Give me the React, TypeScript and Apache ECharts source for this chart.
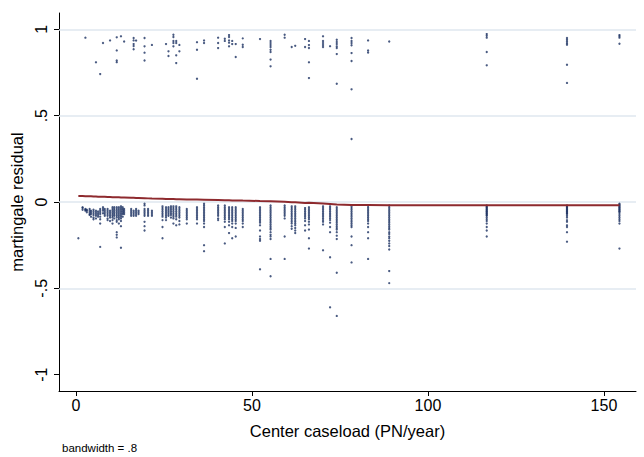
import React, { useEffect, useRef } from "react";
import * as echarts from "echarts";

// Center caseload (PN/year) of each column of points
const caseload = [
  0.7, 1.9, 2.7, 3.1, 3.9, 4.3, 5.0, 5.7, 6.3, 6.9, 7.7, 8.2, 9.0, 9.7, 10.4, 10.9, 11.6, 12.2, 12.8, 13.3,
  13.7, 15.7, 16.4, 17.1, 17.8, 19.5, 20.5, 21.6, 24.6, 25.6, 26.3, 27.0, 27.7, 28.5, 29.4, 31.5, 34.4, 36.4,
  40.4, 42.3, 43.5, 44.4, 45.4, 47.4, 52.3, 55.3, 59.3, 61.3, 62.3, 65.1, 66.2, 70.2, 72.2, 74.1, 78.3, 83.0,
  89.0, 116.7, 139.5, 154.4,
];

// Martingale residuals below zero (censored cases), per column
const lowResiduals: number[][] = [
  [-0.21],
  [-0.03, -0.035, -0.045],
  [-0.04, -0.045, -0.05],
  [-0.045, -0.05, -0.06],
  [-0.04, -0.05, -0.06, -0.07, -0.075],
  [-0.05, -0.06, -0.07, -0.085],
  [-0.045, -0.055, -0.065, -0.075, -0.09, -0.1],
  [-0.05, -0.06, -0.07, -0.08, -0.095],
  [-0.055, -0.065, -0.075, -0.085],
  [-0.04, -0.05, -0.06, -0.07, -0.085, -0.1, -0.125, -0.26],
  [-0.03, -0.04, -0.05, -0.065],
  [-0.04, -0.05, -0.06, -0.07, -0.08],
  [-0.04, -0.05, -0.06, -0.07, -0.08, -0.095, -0.105],
  [-0.05, -0.06, -0.07, -0.08, -0.09, -0.11],
  [-0.03, -0.04, -0.05, -0.06, -0.07, -0.08, -0.09, -0.105, -0.125],
  [-0.03, -0.04, -0.05, -0.06, -0.07, -0.08, -0.095],
  [-0.03, -0.04, -0.05, -0.06, -0.07, -0.08, -0.09, -0.105, -0.115, -0.175, -0.19, -0.205],
  [-0.03, -0.04, -0.05, -0.06, -0.07, -0.08, -0.09, -0.1, -0.125],
  [-0.025, -0.035, -0.045, -0.055, -0.065, -0.075, -0.085, -0.095, -0.11, -0.14, -0.265],
  [-0.03, -0.04, -0.05, -0.06, -0.07, -0.085],
  [-0.04, -0.05, -0.06, -0.07],
  [-0.04, -0.05, -0.06, -0.07, -0.08],
  [-0.05, -0.06, -0.07, -0.08],
  [-0.04, -0.05, -0.06, -0.07, -0.08],
  [-0.05, -0.06, -0.07],
  [-0.01, -0.02, -0.04, -0.05, -0.06, -0.07, -0.08, -0.115, -0.14, -0.165],
  [-0.04, -0.05, -0.06, -0.07, -0.08],
  [-0.05, -0.06, -0.07, -0.08],
  [-0.025, -0.035, -0.045, -0.055, -0.065, -0.075, -0.085, -0.105, -0.145, -0.21],
  [-0.03, -0.04, -0.05, -0.06, -0.07, -0.08, -0.09, -0.105],
  [-0.03, -0.04, -0.05, -0.06, -0.07, -0.08],
  [-0.025, -0.035, -0.045, -0.055, -0.065, -0.075, -0.09],
  [-0.025, -0.035, -0.045, -0.055, -0.065, -0.075, -0.085, -0.095, -0.125],
  [-0.025, -0.035, -0.045, -0.055, -0.065, -0.075, -0.085, -0.1, -0.135],
  [-0.03, -0.04, -0.05, -0.06, -0.07, -0.08, -0.09, -0.11, -0.13],
  [-0.04, -0.05, -0.06, -0.07, -0.08, -0.09, -0.1, -0.125],
  [-0.03, -0.04, -0.05, -0.06, -0.07, -0.08, -0.09, -0.1, -0.125],
  [-0.01, -0.02, -0.03, -0.04, -0.05, -0.06, -0.07, -0.08, -0.09, -0.1, -0.11, -0.125, -0.145, -0.25, -0.285],
  [-0.02, -0.03, -0.04, -0.05, -0.06, -0.07, -0.08, -0.095, -0.105],
  [-0.02, -0.03, -0.04, -0.05, -0.06, -0.07, -0.08, -0.09, -0.1, -0.115, -0.145, -0.24],
  [-0.03, -0.04, -0.05, -0.06, -0.07, -0.08, -0.09, -0.1, -0.115, -0.135, -0.18],
  [-0.03, -0.04, -0.05, -0.06, -0.07, -0.08, -0.09, -0.1, -0.11, -0.125, -0.145, -0.21],
  [-0.03, -0.04, -0.05, -0.06, -0.07, -0.08, -0.09, -0.1, -0.11, -0.125, -0.15, -0.2],
  [-0.04, -0.05, -0.06, -0.07, -0.08, -0.09, -0.1, -0.11, -0.125, -0.145],
  [-0.03, -0.04, -0.05, -0.06, -0.07, -0.08, -0.09, -0.1, -0.11, -0.12, -0.135, -0.165, -0.2, -0.215, -0.225, -0.39],
  [-0.02, -0.03, -0.04, -0.05, -0.06, -0.07, -0.08, -0.09, -0.1, -0.11, -0.12, -0.13, -0.14, -0.15, -0.16, -0.175, -0.19, -0.2, -0.215, -0.33, -0.43],
  [-0.02, -0.03, -0.04, -0.05, -0.06, -0.07, -0.08, -0.095, -0.2, -0.33],
  [-0.025, -0.035, -0.045, -0.055, -0.065, -0.075, -0.085, -0.095, -0.105, -0.115, -0.125, -0.14, -0.155],
  [-0.025, -0.035, -0.045, -0.055, -0.065, -0.075, -0.085, -0.095, -0.105, -0.115, -0.125, -0.135, -0.15, -0.165, -0.18],
  [-0.035, -0.045, -0.055, -0.065, -0.075, -0.085, -0.095, -0.11, -0.135, -0.165],
  [-0.03, -0.04, -0.05, -0.06, -0.07, -0.08, -0.09, -0.1, -0.115, -0.13, -0.16, -0.21, -0.27],
  [-0.025, -0.035, -0.045, -0.055, -0.065, -0.075, -0.085, -0.095, -0.105, -0.115, -0.13, -0.28],
  [-0.025, -0.035, -0.045, -0.055, -0.065, -0.075, -0.085, -0.095, -0.105, -0.12, -0.145, -0.175, -0.32, -0.61],
  [-0.03, -0.04, -0.05, -0.06, -0.07, -0.08, -0.09, -0.1, -0.11, -0.12, -0.13, -0.14, -0.15, -0.16, -0.175, -0.195, -0.215, -0.41, -0.66],
  [-0.025, -0.035, -0.045, -0.055, -0.065, -0.075, -0.085, -0.095, -0.105, -0.115, -0.125, -0.135, -0.145, -0.2, -0.25, -0.35],
  [-0.02, -0.03, -0.04, -0.05, -0.06, -0.07, -0.08, -0.09, -0.1, -0.11, -0.125, -0.145, -0.175, -0.21, -0.33],
  [-0.02, -0.03, -0.04, -0.05, -0.06, -0.07, -0.08, -0.09, -0.1, -0.11, -0.12, -0.13, -0.14, -0.15, -0.16, -0.175, -0.185, -0.2, -0.21, -0.225, -0.24, -0.255, -0.275, -0.4, -0.47],
  [-0.02, -0.025, -0.03, -0.035, -0.04, -0.045, -0.05, -0.055, -0.06, -0.065, -0.07, -0.075, -0.08, -0.09, -0.1, -0.11, -0.125, -0.145, -0.165, -0.2],
  [-0.02, -0.025, -0.03, -0.035, -0.04, -0.045, -0.05, -0.055, -0.06, -0.065, -0.07, -0.08, -0.09, -0.105, -0.115, -0.135, -0.145, -0.175, -0.23],
  [-0.01, -0.015, -0.02, -0.025, -0.03, -0.035, -0.04, -0.045, -0.05, -0.055, -0.06, -0.07, -0.08, -0.09, -0.1, -0.11, -0.125, -0.27],
];

// Martingale residuals near one (events), per column
const highResiduals: number[][] = [
  [], [], [0.952], [], [], [], [], [0.809], [], [0.741], [0.921], [], [], [0.936], [], [],
  [0.954, 0.878, 0.82, 0.81], [], [0.96], [], [0.93], [], [0.95, 0.936, 0.915, 0.904, 0.885],
  [0.935], [], [0.95, 0.902, 0.865, 0.82], [], [0.91], [], [0.915], [0.873, 0.846],
  [], [0.969, 0.956, 0.933, 0.921, 0.902], [0.933, 0.921, 0.85, 0.805], [0.91, 0.873], [],
  [0.926, 0.882, 0.714], [0.936, 0.921],
  [0.952, 0.921, 0.892], [0.946, 0.933], [0.967, 0.956, 0.936, 0.923, 0.902], [0.933, 0.915],
  [0.915, 0.84], [0.948, 0.911, 0.898], [0.944],
  [0.933, 0.921, 0.909, 0.898, 0.882, 0.869, 0.825, 0.786], [0.969, 0.952], [0.898], [0.905],
  [0.944, 0.898], [0.933, 0.909, 0.892, 0.809, 0.718], [0.96, 0.933, 0.921, 0.909, 0.898], [0.903],
  [0.94, 0.927, 0.915, 0.902, 0.892, 0.857, 0.685], [0.95, 0.933, 0.921, 0.908, 0.863, 0.817, 0.653, 0.365],
  [0.936, 0.878, 0.866], [0.93], [0.973, 0.963, 0.952, 0.869, 0.792],
  [0.95, 0.94, 0.93, 0.92, 0.911, 0.795, 0.69], [0.967, 0.96, 0.952, 0.917],
];

// Lowess smoother (bandwidth .8) evaluated at each column
const lowessFit = [
  0.035, 0.035, 0.034, 0.034, 0.033, 0.033, 0.032, 0.032, 0.031, 0.031, 0.03, 0.03, 0.029, 0.029, 0.028, 0.028,
  0.027, 0.027, 0.026, 0.026, 0.026, 0.024, 0.024, 0.023, 0.023, 0.022, 0.021, 0.02, 0.019, 0.018, 0.018, 0.017,
  0.017, 0.016, 0.016, 0.015, 0.014, 0.013, 0.011, 0.01, 0.01, 0.009, 0.009, 0.008, 0.006, 0.005, 0.001, -0.001,
  -0.002, -0.006, -0.004, -0.009, -0.012, -0.015, -0.017, -0.018, -0.019, -0.019, -0.019, -0.019,
];

const xTicks = [0, 50, 100, 150];
const yTicks = [-1, -0.5, 0, 0.5, 1];
const yGridLines = [-0.5, 0, 0.5, 1];

const FONT = "'Liberation Sans', Arial, Helvetica, sans-serif";

function stataNum(v: number): string {
  if (v === 0) return "0";
  const s = String(Math.abs(v)).replace(/^0\./, ".");
  return (v < 0 ? "-" : "") + s;
}

export default function App() {
  const ref = useRef<HTMLDivElement>(null);
  useEffect(() => {
    if (!ref.current) return;
    const chart = echarts.init(ref.current, undefined, { renderer: "svg" });
    const points: number[][] = [];
    caseload.forEach((x, i) => {
      lowResiduals[i].forEach((y) => points.push([x, y]));
      highResiduals[i].forEach((y) => points.push([x, y]));
    });
    const lowess = caseload.map((x, i) => [x, lowessFit[i]]);
    chart.setOption({
      animation: false,
      backgroundColor: "#ffffff",
      grid: { left: 59, right: 8, top: 13, bottom: 66 },
      xAxis: {
        type: "value",
        min: -4.8,
        max: 159.1,
        axisLine: { show: true, onZero: false, lineStyle: { color: "#000", width: 1 } },
        axisTick: { show: true, customValues: xTicks, length: 5, lineStyle: { color: "#000" } },
        axisLabel: {
          customValues: xTicks,
          fontSize: 16,
          color: "#000",
          margin: 6,
          fontFamily: FONT,
          formatter: (v: number) => stataNum(v),
        },
        splitLine: { show: false },
        name: "Center caseload (PN/year)",
        nameLocation: "middle",
        nameGap: 31,
        nameTextStyle: { fontSize: 16.5, color: "#000", fontFamily: FONT },
      },
      yAxis: {
        type: "value",
        min: -1.095,
        max: 1.095,
        axisLine: { show: true, onZero: false, lineStyle: { color: "#000", width: 1 } },
        axisTick: { show: true, customValues: yTicks, length: 5, lineStyle: { color: "#000" } },
        axisLabel: {
          customValues: yTicks,
          rotate: 90,
          fontSize: 16,
          color: "#000",
          margin: 10,
          fontFamily: FONT,
          formatter: (v: number) => stataNum(v),
        },
        splitLine: { show: false },
        name: "martingale residual",
        nameLocation: "middle",
        nameGap: 33,
        nameTextStyle: { fontSize: 16.5, color: "#000", fontFamily: FONT },
      },
      graphic: [
        {
          type: "text",
          left: 62,
          top: 442,
          style: { text: "bandwidth = .8", fontSize: 11.5, fill: "#000", font: `11.5px ${FONT}` },
        },
      ],
      series: [
        {
          type: "scatter",
          data: points,
          symbol: "circle",
          symbolSize: 2.3,
          itemStyle: { color: "#1c3162" },
          z: 2,
          markLine: {
            silent: true,
            symbol: "none",
            z: 1,
            label: { show: false },
            lineStyle: { color: "#dfe7ef", width: 1.5, type: "solid" },
            data: yGridLines.map((v) => ({ yAxis: v })),
          },
        },
        {
          type: "line",
          data: lowess,
          symbol: "none",
          lineStyle: { color: "#8e2a2e", width: 2 },
          z: 3,
        },
      ],
    });
    return () => chart.dispose();
  }, []);
  return (
    <div
      ref={ref}
      style={{ position: "fixed", left: 0, top: 0, width: 644, height: 457, background: "#fff" }}
    />
  );
}
